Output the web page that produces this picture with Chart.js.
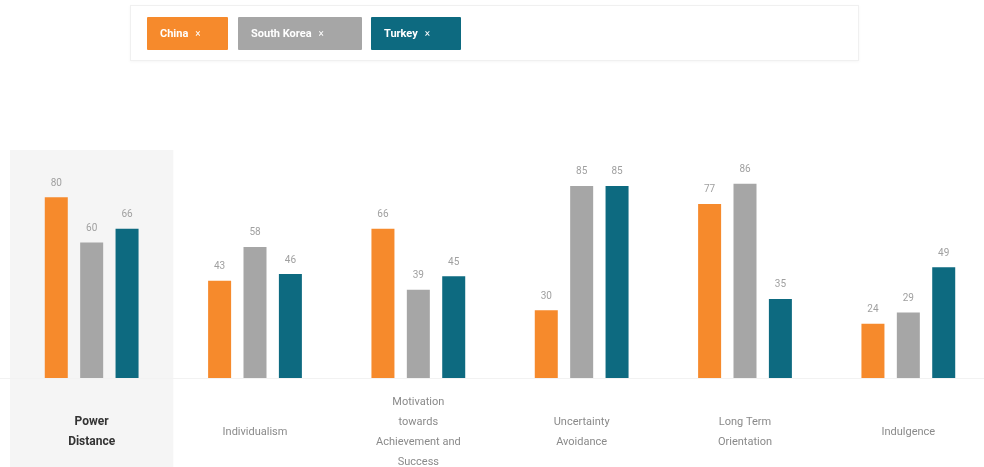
<!DOCTYPE html>
<html>
<head>
<meta charset="utf-8">
<script src="https://cdn.jsdelivr.net/npm/chart.js@4.4.1/dist/chart.umd.min.js"></script>
<style>
  html, body { margin: 0; padding: 0; background: #fff; }
  body { width: 984px; height: 467px; position: relative; overflow: hidden; font-family: Roboto, "Open Sans", sans-serif; }
  #legendBox {
    position: absolute; left: 130px; top: 5px; width: 729px; height: 56px;
    border: 1px solid #f0f0f0; box-shadow: 0 1px 3px rgba(0,0,0,0.04); box-sizing: border-box;
  }
  .btn {
    position: absolute; top: 11px; height: 33px; line-height: 33px; box-sizing: border-box;
    padding-left: 13px; color: #fff; font-size: 11px; font-weight: 700; border-radius: 1px;
  }
  .btn span { margin-left: 7px; font-weight: 400; font-size: 10px; }
  #wrap { position: absolute; left: 0; top: 0; width: 990px; height: 467px; }
</style>
</head>
<body>
<div id="wrap"><canvas id="chart" width="990" height="467"></canvas></div>
<div id="legendBox"></div>
<script>
// Hofstede dimensions
const categories = [
  ["Power", "Distance"],
  ["Individualism"],
  ["Motivation", "towards", "Achievement and", "Success"],
  ["Uncertainty", "Avoidance"],
  ["Long Term", "Orientation"],
  ["Indulgence"]
];
const countries = ["China", "South Korea", "Turkey"];
const china = [80, 43, 66, 30, 77, 24];
const southKorea = [60, 58, 39, 85, 86, 29];
const turkey = [66, 46, 45, 85, 35, 49];
const colors = ["#f68a2c", "#a6a6a6", "#0d6a80"];
const highlighted = 0;

// legend buttons
const btnLeft = [16, 107, 240];
const btnWidth = [81, 124, 90];
const legendBox = document.getElementById("legendBox");
countries.forEach((name, i) => {
  const b = document.createElement("div");
  b.className = "btn";
  b.style.left = btnLeft[i] + "px";
  b.style.width = btnWidth[i] + "px";
  b.style.background = colors[i];
  b.innerHTML = name + "<span>×</span>";
  legendBox.appendChild(b);
});

const bgPlugin = {
  id: "bgPlugin",
  beforeDatasetsDraw(chart) {
    const ctx = chart.ctx;
    const x = chart.scales.x;
    const area = chart.chartArea;
    const catW = (area.right - area.left) / categories.length;
    const cx = x.getPixelForValue(highlighted);
    ctx.save();
    ctx.fillStyle = "#f5f5f5";
    ctx.fillRect(cx - catW / 2, area.top - 2, catW, chart.height - area.top + 2);
    ctx.strokeStyle = "#f2f2f2";
    ctx.lineWidth = 1;
    ctx.beginPath();
    ctx.moveTo(0, area.bottom + 0.5);
    ctx.lineTo(chart.width, area.bottom + 0.5);
    ctx.stroke();
    ctx.restore();
  },
  afterDatasetsDraw(chart) {
    const ctx = chart.ctx;
    ctx.save();
    ctx.font = "10px Roboto, sans-serif";
    ctx.fillStyle = "#a0a0a0";
    ctx.textAlign = "center";
    ctx.textBaseline = "bottom";
    chart.data.datasets.forEach((ds, di) => {
      chart.getDatasetMeta(di).data.forEach((bar, i) => {
        ctx.fillText(ds.data[i], bar.x, bar.y - 9);
      });
    });
    // category labels, centred vertically
    const x = chart.scales.x;
    const lineH = 20;
    const midY = 432;
    categories.forEach((lines, i) => {
      const cx = x.getPixelForValue(i);
      if (i === highlighted) {
        ctx.font = "bold 12px Roboto, sans-serif";
        ctx.fillStyle = "#333";
      } else {
        ctx.font = "11px Roboto, sans-serif";
        ctx.fillStyle = "#8a8a8a";
      }
      ctx.textBaseline = "middle";
      const startY = midY - (lines.length - 1) * lineH / 2;
      lines.forEach((t, j) => ctx.fillText(t, cx, startY + j * lineH));
    });
    ctx.restore();
  }
};

new Chart(document.getElementById("chart"), {
  type: "bar",
  data: {
    labels: categories,
    datasets: [
      { label: countries[0], data: china, backgroundColor: colors[0] },
      { label: countries[1], data: southKorea, backgroundColor: colors[1] },
      { label: countries[2], data: turkey, backgroundColor: colors[2] }
    ]
  },
  options: {
    responsive: false,
    animation: false,
    layout: { padding: { left: 10, right: 0, top: 152, bottom: 89 } },
    datasets: { bar: { categoryPercentage: 0.65, barPercentage: 0.65 } },
    plugins: { legend: { display: false }, tooltip: { enabled: false } },
    scales: {
      x: { display: false },
      y: { display: false, min: 0, max: 100 }
    }
  },
  plugins: [bgPlugin]
});
</script>
</body>
</html>
